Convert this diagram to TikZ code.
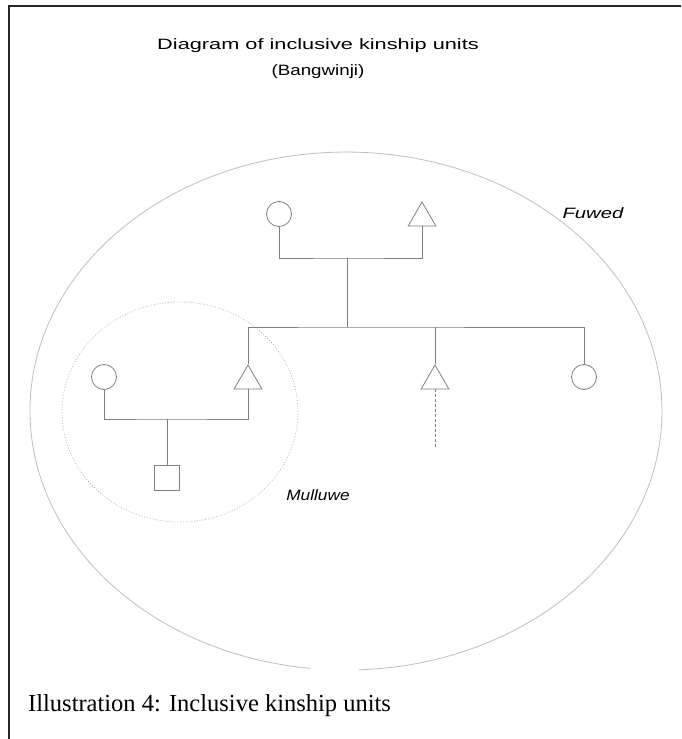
\documentclass[tikz,border=0pt]{standalone}
\usepackage{fontspec}
\setmainfont{Liberation Serif}
\newfontfamily\arialfont{Liberation Sans}
\usetikzlibrary{shapes.geometric}
\newcommand{\widetext}[2]{\scalebox{#1}[1]{#2}}
\begin{document}
\begin{tikzpicture}[x=1pt,y=-1pt,
  kin/.style={draw=black!50, line width=0.8pt},
  female/.style={circle, kin, minimum size=25pt, inner sep=0pt},
  male/.style={regular polygon, regular polygon sides=3, kin, minimum size=32pt, inner sep=0pt},
  person/.style={rectangle, kin, minimum size=25pt, inner sep=0pt},
  tie/.style={draw=black!50, line width=0.8pt},
  unitlabel/.style={font=\arialfont\itshape\fontsize{15}{17}\selectfont, inner sep=0pt},
  heading/.style={font=\arialfont\fontsize{15}{17}\selectfont, inner sep=0pt},
  frame/.style={draw=black!85, line width=2pt}]
\useasboundingbox (0,0) rectangle (681,739);
\fill[white] (0,0) rectangle (681,739);
% page frame
\draw[frame] (9,739) -- (9,6) -- (681,6);

% headings
\node[heading] (title) at (318,46) {\widetext{1.45}{Diagram of inclusive kinship units}};
\node[heading] (sub) at (318,72) {\widetext{1.25}{(Bangwinji)}};

% outer unit (open at the bottom)
\draw[black!25, line width=0.8pt] (359.2,669.8) arc[start angle=272.4, end angle=623.5, x radius=316pt, y radius=259pt];
% inner unit
\draw[black!30, dotted, line width=0.8pt] (180,412) ellipse [x radius=118pt, y radius=110pt];

% parents
\node[female] (mo) at (279,214) {};
\node[male] (fa) at (422,218) {};
\coordinate (pbar) at (347,258);
\coordinate (sbar) at (347,327);
\draw[tie] (mo.south) |- (pbar) -| (fa.south);
\draw[tie] (pbar) -- (sbar);

% siblings
\node[male] (ego) at (248,381) {};
\node[male] (bro) at (435,381) {};
\node[female] (sis) at (584,377) {};
\draw[tie] (ego.north) |- (sbar) -| (sis.north);
\draw[tie] (bro.north) -- (bro.north |- sbar);
\coordinate (broend) at (435,447);
\draw[tie, dash pattern=on 3pt off 2pt] (bro.south) -- (broend);

% ego's spouse and child
\node[female] (wi) at (104,377) {};
\coordinate (mbar) at (167,419);
\draw[tie] (wi.south) |- (mbar) -| (ego.south);
\node[person] (ch) at (167,477.5) {};
\draw[tie] (mbar) -- (ch.north);

% unit names
\node[unitlabel] (fuwed) at (593,213) {\widetext{1.35}{Fuwed}};
\node[unitlabel] (mulluwe) at (318,495) {\widetext{1.15}{Mulluwe}};

% caption
\node[anchor=west, inner sep=0pt, font=\fontsize{24.5}{28}\selectfont] (cap) at (28,706) {Illustration 4: Inclusive kinship units};
\end{tikzpicture}
\end{document}
